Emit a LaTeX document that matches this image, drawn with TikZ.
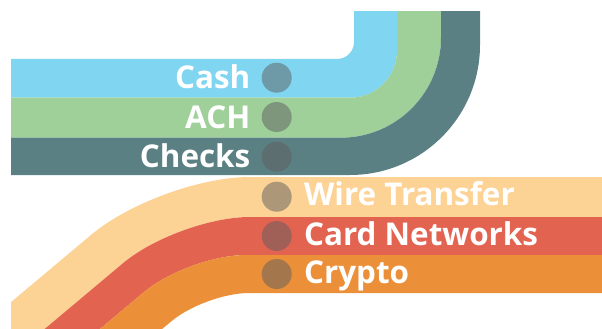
\documentclass[tikz,border=0pt]{standalone}
\usepackage{fontspec}
\setmainfont{Open Sans}
\usetikzlibrary{positioning}

\definecolor{cashblue}{RGB}{128,213,241}
\definecolor{achgreen}{RGB}{159,208,153}
\definecolor{checkteal}{RGB}{90,128,131}
\definecolor{wirepeach}{RGB}{253,210,149}
\definecolor{cardred}{RGB}{227,99,81}
\definecolor{cryptoorange}{RGB}{235,143,56}

\tikzset{
  dot/.style={circle, fill=black!63, fill opacity=0.5, inner sep=0pt, minimum size=30pt},
  lbl/.style={text=white, font=\fontsize{31.4}{36}\selectfont\bfseries, inner sep=0pt, text height=22pt, text depth=0pt},
}

\begin{document}
\begin{tikzpicture}[x=1pt, y=-1pt]
\useasboundingbox (0,0) rectangle (602,329);

\begin{scope}
\clip (11,12) rectangle (602,329);
% bands going up
\fill[cashblue, even odd rule]
  [rounded corners=47pt] (-300,97.7) -- (397,97.7) -- (397,-300) -- (-300,-300) -- cycle
  [rounded corners=17pt] (-300,59) -- (354,59) -- (354,-300) -- (-300,-300) -- cycle;
\fill[achgreen, even odd rule]
  [rounded corners=100pt] (-300,137.7) -- (441,137.7) -- (441,-300) -- (-300,-300) -- cycle
  [rounded corners=47pt] (-300,97.7) -- (397,97.7) -- (397,-300) -- (-300,-300) -- cycle;
\fill[checkteal, even odd rule]
  [rounded corners=130pt] (-300,175) -- (480,175) -- (480,-300) -- (-300,-300) -- cycle
  [rounded corners=100pt] (-300,137.7) -- (441,137.7) -- (441,-300) -- (-300,-300) -- cycle;
% bands going down
\fill[wirepeach, even odd rule]
  [rounded corners=90pt] (900,177) -- (160,177) -- (-146,434) -- (900,434) -- cycle
  [rounded corners=72pt] (900,217) -- (178,217) -- (-128,474) -- (900,474) -- cycle;
\fill[cardred, even odd rule]
  [rounded corners=72pt] (900,217) -- (178,217) -- (-128,474) -- (900,474) -- cycle
  [rounded corners=58pt] (900,255) -- (188,255) -- (-118,512) -- (900,512) -- cycle;
\fill[cryptoorange, even odd rule]
  [rounded corners=58pt] (900,255) -- (188,255) -- (-118,512) -- (900,512) -- cycle
  [rounded corners=44pt] (900,293) -- (205,293) -- (-101,550) -- (900,550) -- cycle;
\end{scope}

\node[dot] (cash) at (276.7,77.7) {};
\node[dot] (ach) at (276.7,117) {};
\node[dot] (checks) at (276.7,156.7) {};
\node[dot] (wire) at (276.7,196.7) {};
\node[dot] (card) at (276.7,236) {};
\node[dot] (crypto) at (276.7,274) {};

\node[lbl, left=11pt of cash] (cashlbl) {Cash};
\node[lbl, left=11pt of ach] (achlbl) {ACH};
\node[lbl, left=11pt of checks] (checkslbl) {Checks};
\node[lbl, right=12pt of wire, yshift=2pt] (wirelbl) {Wire Transfer};
\node[lbl, right=12pt of card, yshift=2pt] (cardlbl) {Card Networks};
\node[lbl, right=12pt of crypto, yshift=2pt] (cryptolbl) {Crypto};
\end{tikzpicture}
\end{document}
